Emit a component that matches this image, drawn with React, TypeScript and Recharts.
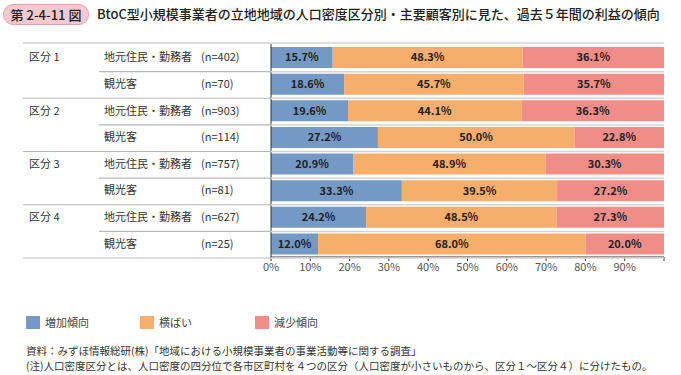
import React from "react";
import {
  BarChart,
  Bar,
  XAxis,
  YAxis,
  LabelList,
  Legend,
} from "recharts";

const zoneLabels = ["区分 1", "区分 2", "区分 3", "区分 4"];
const customerTypes = ["地元住民・勤務者", "観光客"];
const sampleSizes = [402, 70, 903, 114, 757, 81, 627, 25];

const increase = [15.7, 18.6, 19.6, 27.2, 20.9, 33.3, 24.2, 12.0];
const flat = [48.3, 45.7, 44.1, 50.0, 48.9, 39.5, 48.5, 68.0];
const decrease = [36.1, 35.7, 36.3, 22.8, 30.3, 27.2, 27.3, 20.0];

const xTicks = [0, 10, 20, 30, 40, 50, 60, 70, 80, 90, 100];

const seriesNames = ["増加傾向", "横ばい", "減少傾向"];
const BLUE = "#7399C4";
const ORANGE = "#F5AE6B";
const RED = "#F08D88";
const seriesColors = [BLUE, ORANGE, RED];

const FONT = '"Noto Sans CJK JP", "Noto Sans", sans-serif';

const rows = sampleSizes.map((n, i) => ({
  key: `r${i}`,
  zone: i % 2 === 0 ? zoneLabels[i / 2] : "",
  customer: customerTypes[i % 2],
  n: `(n=${n})`,
  increase: increase[i],
  flat: flat[i],
  decrease: decrease[i],
}));

const W = 681;
const H = 375;
const TOP = 44;
const PLOT_BOTTOM = 273;
const AXIS_X = 271;
const RIGHT = 664;
const HALF_ROW = (PLOT_BOTTOM - TOP) / rows.length / 2;

// eslint-disable-next-line @typescript-eslint/no-explicit-any
function RowTick({ y, payload }: any) {
  const row = rows[payload.index];
  if (!row) return null;
  const lastInGroup = payload.index % 2 === 1;
  return (
    <g>
      {payload.index === 0 && (
        <line x1={23} x2={AXIS_X} y1={y - HALF_ROW} y2={y - HALF_ROW} stroke="#b9b9b9" strokeWidth={1.2} />
      )}
      {payload.index === 0 && (
        <line x1={AXIS_X} x2={RIGHT} y1={y - HALF_ROW} y2={y - HALF_ROW} stroke="#d4d4d4" strokeWidth={1.5} />
      )}
      <line
        x1={lastInGroup ? 23 : 99}
        x2={AXIS_X}
        y1={y + HALF_ROW}
        y2={y + HALF_ROW}
        stroke="#b9b9b9"
        strokeWidth={1.2}
      />
      <line x1={AXIS_X} x2={RIGHT} y1={y + HALF_ROW} y2={y + HALF_ROW} stroke="#d4d4d4" strokeWidth={1.5} />
      <text x={29} y={y} dy={4} fontSize={11} fill="#333" fontFamily={FONT}>
        {row.zone}
      </text>
      <text x={104} y={y} dy={4} fontSize={11} fill="#333" fontFamily={FONT}>
        {row.customer}
      </text>
      <text x={201} y={y} dy={4} fontSize={11} fill="#333" fontFamily={FONT}>
        {row.n}
      </text>
    </g>
  );
}

function LegendBox() {
  const xs = [26, 140, 255];
  return (
    <div style={{ position: "relative", height: 16, fontFamily: FONT }}>
      {seriesNames.map((name, i) => (
        <div key={name} style={{ position: "absolute", left: xs[i], top: 0, display: "flex", alignItems: "center" }}>
          <span style={{ display: "inline-block", width: 14, height: 13, background: seriesColors[i], marginRight: 5 }} />
          <span style={{ fontSize: 11, color: "#444" }}>{name}</span>
        </div>
      ))}
    </div>
  );
}

const fmt = (v: unknown) => `${Number(v).toFixed(1)}%`;

export default function App() {
  return (
    <div style={{ position: "absolute", left: 0, top: 0, width: W, height: H, background: "#fff", fontFamily: FONT }}>
      <div
        style={{
          position: "absolute",
          left: 3,
          top: 4,
          width: 84,
          height: 19,
          background: "#F6C9D0",
          border: "1px solid #E8A3AE",
          borderRadius: 10,
          fontSize: 13,
          lineHeight: "19px",
          textAlign: "center",
          color: "#222",
          fontWeight: 500,
        }}
      >
        第 2-4-11 図
      </div>
      <div style={{ position: "absolute", left: 97, top: 4, fontSize: 13, lineHeight: "20px", color: "#222", fontWeight: 500 }}>
        BtoC型小規模事業者の立地地域の人口密度区分別・主要顧客別に見た、過去５年間の利益の傾向
      </div>

      <BarChart
        width={W}
        height={H}
        data={rows}
        layout="vertical"
        margin={{ top: TOP, right: W - RIGHT, bottom: H - PLOT_BOTTOM - 24, left: 0 }}
        barSize={21}
      >
        <XAxis
          type="number"
          domain={[0, 100]}
          ticks={xTicks}
          allowDataOverflow
          height={24}
          tickFormatter={(v: number) => (v === 100 ? "" : `${v}%`)}
          axisLine={{ stroke: "#333" }}
          tickLine={{ stroke: "#333" }}
          tickSize={4}
          tick={{ fontSize: 11, fill: "#555", fontFamily: FONT }}
        />
        <YAxis
          type="category"
          dataKey="key"
          width={AXIS_X}
          axisLine={{ stroke: "#333" }}
          tickLine={false}
          tick={<RowTick />}
          interval={0}
        />
        <Legend
          verticalAlign="bottom"
          content={() => <LegendBox />}
          wrapperStyle={{ position: "absolute", left: 0, top: 314, width: W }}
        />
        <Bar dataKey="increase" stackId="a" fill={BLUE} isAnimationActive={false}>
          <LabelList dataKey="increase" position="center" formatter={fmt} fontSize={11} fill="#222" fontWeight={600} fontFamily={FONT} />
        </Bar>
        <Bar dataKey="flat" stackId="a" fill={ORANGE} isAnimationActive={false}>
          <LabelList dataKey="flat" position="center" formatter={fmt} fontSize={11} fill="#222" fontWeight={600} fontFamily={FONT} />
        </Bar>
        <Bar dataKey="decrease" stackId="a" fill={RED} isAnimationActive={false}>
          <LabelList dataKey="decrease" position="center" formatter={fmt} fontSize={11} fill="#222" fontWeight={600} fontFamily={FONT} />
        </Bar>
      </BarChart>

      <div style={{ position: "absolute", left: 26, top: 343, fontSize: 10.5, lineHeight: "15px", color: "#333", whiteSpace: "nowrap" }}>
        資料：みずほ情報総研(株)「地域における小規模事業者の事業活動等に関する調査」
        <br />
        (注)人口密度区分とは、人口密度の四分位で各市区町村を４つの区分（人口密度が小さいものから、区分１～区分４）に分けたもの。
      </div>
    </div>
  );
}
